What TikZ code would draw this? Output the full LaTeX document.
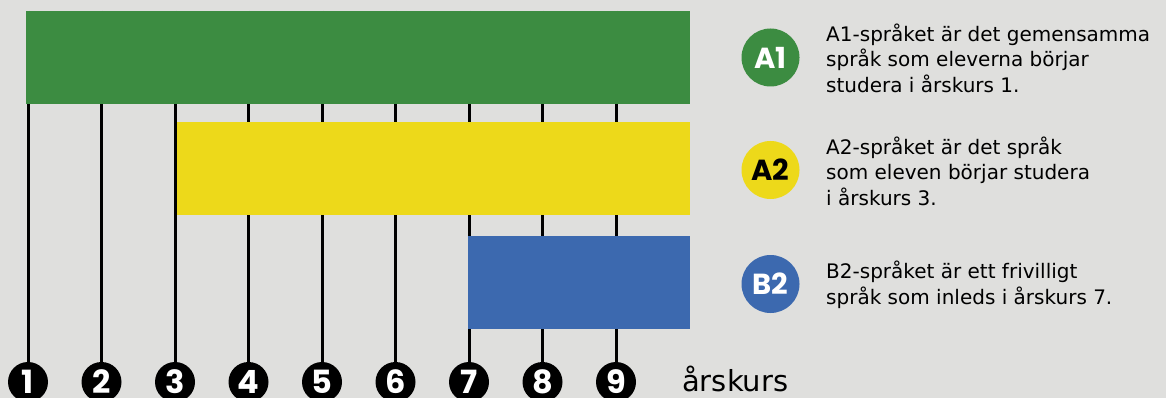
\documentclass[tikz,border=0pt]{standalone}
\usepackage{fontspec}
\setmainfont{DejaVu Sans}
\newfontfamily\heavyfont{Poppins}
\usetikzlibrary{positioning}
\definecolor{bggrey}{HTML}{DFDFDD}
\definecolor{agreen}{HTML}{3C8C41}
\definecolor{ayellow}{HTML}{EDD91A}
\definecolor{bblue}{HTML}{3C69AF}

\begin{document}
\begin{tikzpicture}[x=1pt,y=-1pt]
			\tikzstyle{gradeline}=[line width=3pt,black]
			\tikzstyle{gradedot}=[circle,fill=black,minimum size=40pt,inner sep=0pt,text=white,font=\heavyfont\bfseries\fontsize{32}{32}\selectfont]
			\tikzstyle{badge}=[circle,minimum size=58pt,inner sep=0pt,font=\heavyfont\bfseries\fontsize{29}{29}\selectfont]
			\tikzstyle{legend}=[anchor=west,align=left,inner sep=0pt,font=\fontsize{20}{25.5}\selectfont]
			
			\fill[bggrey] (0,0) rectangle (1166,398);
			\useasboundingbox (0,0) rectangle (1166,398);
			
			% grade axis
			\foreach \g in {1,...,9}{
				\coordinate (top\g) at ({28+73.5*(\g-1)},11);
				\coordinate (bot\g) at ({28+73.5*(\g-1)},382);
				\draw[gradeline] (top\g) -- (bot\g);
				\node[gradedot] (g\g) at (bot\g) {\g};
			}
			\node[anchor=base west,inner sep=0pt,font=\fontsize{29}{29}\selectfont] (arskurs) at (682,391) {årskurs};
			
			% bars
			\fill[agreen] (26,11) rectangle (690,103.7);
			\fill[ayellow] (176.7,122) rectangle (690,215);
			\fill[bblue] (468,236) rectangle (690,328.7);
			
			% legend
			\node[badge,fill=agreen,text=white] (a1) at (770.5,57.5) {A1};
			\node[badge,fill=ayellow,text=black] (a2) at (770.5,170) {A2};
			\node[badge,fill=bblue,text=white] (b2) at (770.5,284) {B2};
			\node[legend] (a1text) at (826,58) {A1-språket är det gemensamma\\språk som eleverna börjar\\studera i årskurs 1.};
			\node[legend] (a2text) at (826,171) {A2-språket är det språk\\som eleven börjar studera\\i årskurs 3.};
			\node[legend] (b2text) at (826,285) {B2-språket är ett frivilligt\\språk som inleds i årskurs 7.};
			
			\end{tikzpicture}
\end{document}
